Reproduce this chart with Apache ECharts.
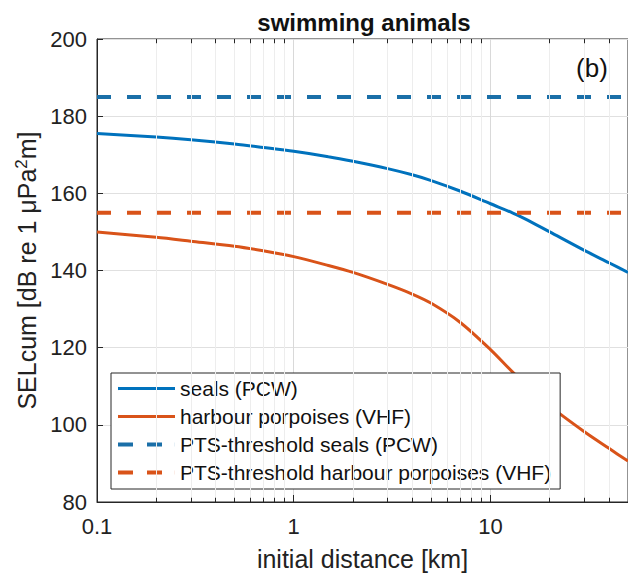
<!DOCTYPE html>
<html>
<head>
<meta charset="utf-8">
<script src="https://cdn.jsdelivr.net/npm/echarts@6/dist/echarts.min.js"></script>
<style>
  html, body { margin: 0; padding: 0; background: #fff; }
  #chart { width: 628px; height: 576px; }
</style>
</head>
<body>
<div id="chart"></div>
<script>
var distances = [0.1, 0.2, 0.3, 0.5, 0.7, 1, 1.5, 2, 3, 4, 5, 7, 10, 13, 15, 20, 30, 40, 50];
var sealsSel = [175.5, 174.6, 173.9, 172.8, 171.9, 170.9, 169.5, 168.3, 166.4, 164.8, 163.3, 160.6, 157.3, 154.9, 153.4, 150.0, 145.2, 142.0, 139.5];
var porpoisesSel = [150.0, 148.6, 147.6, 146.3, 145.1, 143.6, 141.3, 139.5, 136.4, 133.9, 131.5, 126.6, 119.5, 113.6, 110.6, 104.9, 98.2, 93.9, 90.6];
var thresholdSeals = 185;
var thresholdPorpoises = 155;
var xRange = [0.1, 50];
var xTickLabels = { '0.1': '0.1', '1': '1', '10': '10' };
var minorX = [0.2, 0.3, 0.4, 0.5, 0.6, 0.7, 0.8, 0.9, 2, 3, 4, 5, 6, 7, 8, 9, 20, 30, 40];
var seriesNames = ['seals (PCW)', 'harbour porpoises (VHF)', 'PTS-threshold seals (PCW)', 'PTS-threshold harbour porpoises (VHF)'];

var font = '"Liberation Sans", Arial, Helvetica, sans-serif';
var ink = '#262626';
var blue = '#0072BD';
var darkBlue = '#1a6fa8';
var orange = '#D95319';

// legend glyphs: a solid bar or two dashes (last tiny rect keeps the box 57 wide)
// legend keeps aspect, so the path box is drawn at its real pixel size
var solidIcon = 'path://M0,0.5H57V3.5H0Z M0,0H0.1V4H0Z';
var dashIcon = 'path://M0,0H15V4H0ZM29,0H44V4H29ZM56.9,0H57V4H56.9Z';

function pairs(ys) {
  return distances.map(function(d, i) { return [d, ys[i]]; });
}

// minor grid lines + minor ticks on the log axis (echarts' own minor ticks are linear in log space)
var minorLines = minorX.map(function(x) { return { xAxis: x }; });
var minorTicks = [];
minorX.forEach(function(x) {
  minorTicks.push([{ coord: [x, 80] }, { coord: [x, 81.1] }]);
  minorTicks.push([{ coord: [x, 200] }, { coord: [x, 198.9] }]);
});

var chart = echarts.init(document.getElementById('chart'), null, { renderer: 'svg' });
chart.setOption({
  animation: false,
  textStyle: { fontFamily: font },
  grid: { left: 97, top: 39, right: -2, bottom: 71, show: true, borderColor: ink, borderWidth: 1 },
  graphic: [
    { type: 'text', x: 364, y: 22, style: { text: 'swimming animals', font: 'bold 24px ' + font, fill: '#111', align: 'center', verticalAlign: 'middle' } },
    { type: 'text', x: 592, y: 68, style: { text: '(b)', font: '26px ' + font, fill: '#111', align: 'center', verticalAlign: 'middle' } }
  ],
  legend: {
    data: [
      { name: seriesNames[0], icon: solidIcon },
      { name: seriesNames[1], icon: solidIcon },
      { name: seriesNames[2], icon: dashIcon },
      { name: seriesNames[3], icon: dashIcon }
    ],
    orient: 'vertical',
    left: 111,
    top: 373,
    itemWidth: 57,
    itemHeight: 4,
    itemGap: 7,
    padding: [5, 9, 6, 7],
    backgroundColor: '#fff',
    borderColor: ink,
    borderWidth: 1,
    borderRadius: 0,
    textStyle: { fontSize: 21, color: '#111', lineHeight: 21, fontFamily: font }
  },
  xAxis: {
    type: 'log',
    logBase: 10,
    min: xRange[0],
    max: xRange[1],
    name: 'initial distance [km]',
    nameLocation: 'middle',
    nameGap: 44,
    nameTextStyle: { fontSize: 25, color: '#222', fontFamily: font },
    axisLine: { lineStyle: { color: ink } },
    axisTick: { inside: true, length: 7, lineStyle: { color: ink } },
    axisLabel: {
      fontSize: 22, color: '#222', margin: 13, showMaxLabel: false,
      formatter: function(v) { var k = String(+v.toPrecision(6)); return xTickLabels[k] || ''; }
    },
    splitLine: { show: true, lineStyle: { color: '#d9d9d9', width: 1 } }
  },
  yAxis: {
    type: 'value',
    min: 80,
    max: 200,
    interval: 20,
    name: 'SELcum [dB re 1 μPa{sup|2}m]',
    nameLocation: 'middle',
    nameGap: 51,
    nameTextStyle: {
      fontSize: 25, color: '#222', fontFamily: font,
      rich: { sup: { fontSize: 17, verticalAlign: 'bottom', padding: [0, 0, 11, 0], fontFamily: font, color: '#222' } }
    },
    axisLine: { show: true, lineStyle: { color: ink } },
    axisTick: { show: true, inside: true, length: 6, lineStyle: { color: ink } },
    axisLabel: { fontSize: 22, color: '#222', margin: 10 },
    splitLine: { show: true, lineStyle: { color: '#e0e0e0', width: 1 } }
  },
  series: [
    {
      name: 'minor',
      type: 'line',
      data: [],
      silent: true,
      markLine: {
        silent: true,
        symbol: 'none',
        label: { show: false },
        lineStyle: { color: '#ededed', type: 'solid', width: 1 },
        data: minorLines
      },
      z: 1
    },
    {
      name: 'minorTicks',
      type: 'line',
      data: [],
      silent: true,
      markLine: {
        silent: true,
        symbol: 'none',
        label: { show: false },
        lineStyle: { color: ink, type: 'solid', width: 1 },
        data: minorTicks
      },
      z: 1
    },
    {
      name: seriesNames[0],
      type: 'line',
      data: pairs(sealsSel),
      showSymbol: false,
      symbol: 'none',
      smooth: 0.3,
      lineStyle: { color: blue, width: 3 },
      itemStyle: { color: blue },
      z: 3
    },
    {
      name: seriesNames[1],
      type: 'line',
      data: pairs(porpoisesSel),
      showSymbol: false,
      symbol: 'none',
      smooth: 0.3,
      lineStyle: { color: orange, width: 3 },
      itemStyle: { color: orange },
      z: 3
    },
    {
      name: seriesNames[2],
      type: 'line',
      data: [[xRange[0], thresholdSeals], [xRange[1], thresholdSeals]],
      showSymbol: false,
      symbol: 'none',
      lineStyle: { color: darkBlue, width: 4, type: [14, 16] },
      itemStyle: { color: darkBlue },
      z: 4
    },
    {
      name: seriesNames[3],
      type: 'line',
      data: [[xRange[0], thresholdPorpoises], [xRange[1], thresholdPorpoises]],
      showSymbol: false,
      symbol: 'none',
      lineStyle: { color: orange, width: 4, type: [14, 16] },
      itemStyle: { color: orange },
      z: 4
    }
  ]
});
window.addEventListener('resize', function() { chart.resize(); });
</script>
</body>
</html>
